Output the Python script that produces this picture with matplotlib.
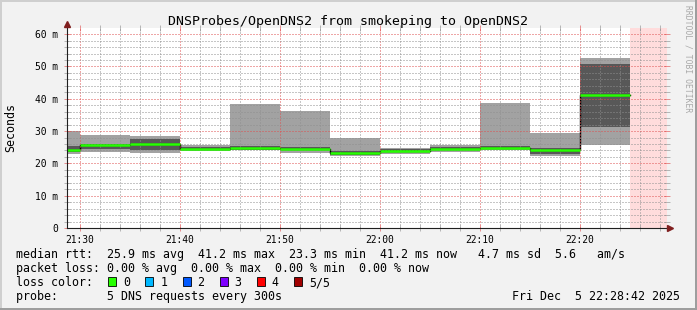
import matplotlib
matplotlib.use("Agg")
import matplotlib.pyplot as plt
from matplotlib.patches import Rectangle
from matplotlib.lines import Line2D
from matplotlib.ticker import FixedLocator, MultipleLocator

plt.rcParams['font.family'] = ['DejaVu Sans Mono']

# RRD 5 minute steps, start of step in minutes after 21:00
step_start = [25, 30, 35, 40, 45, 50, 55, 60, 65, 70, 75, 80]
step_end = 85
# the 5 sorted ping times (ms) per step, ping3 is the median
ping1 = [22.9, 23.6, 23.3, 23.8, 24.0, 23.3, 22.4, 22.8, 23.6, 24.2, 22.4, 25.8]
ping2 = [23.5, 24.5, 24.2, 24.2, 24.2, 24.0, 22.7, 23.5, 24.0, 24.4, 23.0, 31.3]
ping3 = [24.0, 25.6, 26.1, 24.6, 24.9, 24.4, 23.3, 23.8, 24.6, 24.7, 24.2, 41.2]
ping4 = [25.4, 26.0, 27.5, 25.0, 25.5, 25.2, 23.8, 24.6, 25.2, 25.5, 24.7, 50.7]
ping5 = [30.0, 28.9, 28.5, 25.8, 38.3, 36.2, 28.0, 24.9, 25.8, 38.8, 29.5, 52.6]

view_start = 28.7   # 21:28:42
view_end = 88.7     # 22:28:42

x_ticks = [30, 40, 50, 60, 70, 80]
x_labels = ["21:30", "21:40", "21:50", "22:00", "22:10", "22:20"]
y_ticks = [0, 10, 20, 30, 40, 50, 60]
y_labels = ["0", "10 m", "20 m", "30 m", "40 m", "50 m", "60 m"]

loss_labels = ["0", "1", "2", "3", "4", "5/5"]
loss_colors = ["#26ff00", "#00b8ff", "#0059ff", "#7e00ff", "#ff0000", "#a10000"]

W, H = 697, 310
def fx(px):
    return px / W
def fy(py):
    return 1 - py / H

fig = plt.figure(figsize=(W / 100, H / 100), dpi=100, facecolor='#f2f2f2')
ax = fig.add_axes([fx(67), fy(228), 600 / W, 200 / H])
ax.set_facecolor('white')

x = step_start + [step_end]
def ext(v):
    return v + [v[-1]]

# smoke
ax.fill_between(x, ext(ping1), ext(ping5), step='post', color='#a2a2a2', lw=0, zorder=1)
ax.fill_between(x, ext(ping2), ext(ping4), step='post', color='#585858', lw=0, zorder=1)
# median
ax.step(x, ext(ping3), where='post', color='black', lw=1.0, zorder=2)
ax.hlines(ping3, step_start, step_start[1:] + [step_end], color=loss_colors[0], lw=1.8, zorder=3)
# no data yet
ax.axvspan(step_end, view_end, color='#ffdcdc', lw=0, zorder=0.5)

ax.set_xlim(view_start, view_end)
ax.set_ylim(0, 61.9)

ax.xaxis.set_major_locator(FixedLocator(x_ticks))
ax.set_xticklabels(x_labels)
ax.xaxis.set_minor_locator(MultipleLocator(2))
ax.yaxis.set_major_locator(FixedLocator(y_ticks))
ax.set_yticklabels(y_labels)
ax.yaxis.set_minor_locator(MultipleLocator(2))

grid_c = (0.56, 0.56, 0.56, 0.3)
mgrid_c = (0.87, 0.31, 0.31, 0.35)
ax.set_axisbelow(False)
ax.grid(which='minor', color=grid_c, ls=(0, (1, 2)), lw=0.72, zorder=4)
ax.grid(which='major', color=mgrid_c, ls=(0, (1, 2)), lw=0.72, zorder=4)

ax.tick_params(which='both', direction='inout', top=True, right=True,
               labelsize=6.9, labelcolor='black', pad=3)
ax.tick_params(which='major', length=4, width=0.72, color=(0.87, 0.31, 0.31, 0.6))
ax.tick_params(which='minor', length=4, width=0.72, color=(0.56, 0.56, 0.56, 0.6))
ax.tick_params(axis='y', pad=4.5)

for s in ax.spines.values():
    s.set_visible(False)

# axes with arrows
axis_c = (0.12, 0.12, 0.12)
fig.add_artist(Line2D([fx(67), fx(67)], [fy(228), fy(25)], color=axis_c, lw=0.8))
fig.add_artist(Line2D([fx(67), fx(669)], [fy(228), fy(228)], color=axis_c, lw=0.8))
fig.add_artist(Line2D([fx(67)], [fy(24)], marker='^', ms=4.5, color='#801f1f', lw=0))
fig.add_artist(Line2D([fx(670)], [fy(228)], marker='>', ms=4.5, color='#801f1f', lw=0))

fig.text(fx(11), fy(128), "Seconds", rotation=90, ha='center', va='center', fontsize=8.4)

# frame shading
fig.add_artist(Rectangle((0, fy(2)), 1, fy(0) - fy(2), transform=fig.transFigure, color='#cfcfcf', lw=0))
fig.add_artist(Rectangle((0, 0), fx(2), 1, transform=fig.transFigure, color='#cfcfcf', lw=0))
fig.add_artist(Rectangle((0, 0), 1, 2 / H, transform=fig.transFigure, color='#9e9e9e', lw=0))
fig.add_artist(Rectangle((fx(W - 2), 0), 2 / W, 1, transform=fig.transFigure, color='#9e9e9e', lw=0))

fig.text(0.5, fy(25), "DNSProbes/OpenDNS2 from smokeping to OpenDNS2",
         ha='center', va='baseline', fontsize=9.55)
fig.text(fx(688), fy(5), "RRDTOOL / TOBI OETIKER", rotation=270,
         ha='center', va='top', fontsize=5.8, color='#a8a8a8')

fs = 8.4
fig.text(fx(16), fy(258.3),
         "median rtt:  25.9 ms avg  41.2 ms max  23.3 ms min  41.2 ms now   4.7 ms sd  5.6   am/s",
         ha='left', va='baseline', fontsize=fs)
fig.text(fx(16), fy(272.3),
         "packet loss: 0.00 % avg  0.00 % max  0.00 % min  0.00 % now",
         ha='left', va='baseline', fontsize=fs)
fig.text(fx(16), fy(286.3), "loss color:", ha='left', va='baseline', fontsize=fs)
for i, (lab, c) in enumerate(zip(loss_labels, loss_colors)):
    bx = 108.3 + i * 37.1
    fig.add_artist(Rectangle((fx(bx), fy(286)), 8 / W, 9 / H, transform=fig.transFigure,
                             facecolor=c, edgecolor='black', lw=0.6))
    fig.text(fx(bx + 15), fy(286.3), lab, ha='left', va='baseline', fontsize=fs)
fig.text(fx(16), fy(300), "probe:       5 DNS requests every 300s",
         ha='left', va='baseline', fontsize=fs)
fig.text(fx(680), fy(300), "Fri Dec  5 22:28:42 2025", ha='right', va='baseline', fontsize=fs)

fig.savefig("out.png", dpi=100, facecolor=fig.get_facecolor())
